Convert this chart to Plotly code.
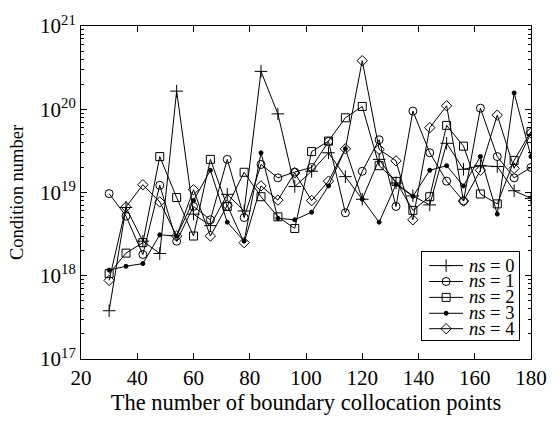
import plotly.graph_objects as go

# Number of boundary collocation points
points = [30, 36, 42, 48, 54, 60, 66, 72, 78, 84, 90, 96, 102, 108, 114, 120,
          126, 132, 138, 144, 150, 156, 162, 168, 174, 180]

# Condition numbers for each ns
cond_ns0 = [3.8e17, 6.6e18, 2.6e18, 1.85e18, 1.65e20, 5.5e18, 4.0e18, 9.5e18, 6.0e18,
            2.85e20, 8.8e19, 1.18e19, 1.8e19, 3.0e19, 1.55e19, 8.3e18, 2.5e19, 1.3e19,
            9.1e18, 7.1e18, 3.9e19, 1.9e19, 2.1e19, 2.05e19, 1.05e19, 8.5e18]
cond_ns1 = [9.7e18, 5.2e18, 1.8e18, 1.22e19, 2.6e18, 6.8e18, 4.7e18, 2.5e19, 5.0e18,
            2.17e19, 1.5e19, 1.76e19, 2.0e19, 4.1e19, 5.7e18, 1.8e19, 4.3e19, 6.8e18,
            9.5e19, 3.0e19, 1.37e19, 7.9e18, 1.03e20, 2.7e19, 1.5e19, 2.0e19]
cond_ns2 = [1.06e18, 1.87e18, 2.5e18, 2.7e19, 8.7e18, 3.0e18, 2.5e19, 6.8e18, 1.75e19,
            8.9e18, 5.1e18, 3.7e18, 3.1e19, 4.15e19, 7.9e19, 1.08e20, 2.1e19, 1.36e19,
            6.1e18, 8.9e18, 6.4e19, 3.6e19, 9.6e18, 7.3e18, 2.43e19, 5.4e19]
cond_ns3 = [1.17e18, 1.3e18, 1.4e18, 3.1e18, 3.0e18, 8.0e18, 1.85e19, 4.4e18, 2.6e18,
            3.0e19, 4.9e18, 4.7e18, 5.8e18, 1.2e19, 3.35e19, 8.3e18, 4.4e18, 1.25e19,
            9.0e18, 1.85e19, 2.1e19, 1.2e19, 2.7e19, 5.5e18, 1.57e20, 2.7e19]
cond_ns4 = [8.8e17, 6.7e18, 1.24e19, 7.7e18, 3.0e18, 1.08e19, 3.0e18, 7.0e18, 2.5e18,
            1.2e19, 8.1e18, 1.72e19, 8.0e18, 1.37e19, 3.35e19, 3.83e20, 3.3e19, 2.4e19,
            4.7e18, 6.0e19, 1.1e20, 7.9e18, 1.85e19, 8.5e19, 1.95e19, 5.2e19]

series_names = ["<i>ns</i> = 0", "<i>ns</i> = 1", "<i>ns</i> = 2",
                "<i>ns</i> = 3", "<i>ns</i> = 4"]

x_tick_vals = [20, 40, 60, 80, 100, 120, 140, 160, 180]
y_tick_vals = [1e17, 1e18, 1e19, 1e20, 1e21]
y_tick_text = ["10<sup>17</sup>", "10<sup>18</sup>", "10<sup>19</sup>",
               "10<sup>20</sup>", "10<sup>21</sup>"]
y_minor_vals = [m * 10.0 ** e for e in range(17, 21) for m in range(2, 10)]

styles = [
    dict(symbol="cross-thin-open", size=9),
    dict(symbol="circle-open", size=8),
    dict(symbol="square-open", size=8),
    dict(symbol="circle", size=4),
    dict(symbol="diamond-open", size=8),
]

font_family = "Liberation Serif, Times New Roman, serif"

fig = go.Figure()
for name, vals, st in zip(series_names,
                          [cond_ns0, cond_ns1, cond_ns2, cond_ns3, cond_ns4],
                          styles):
    fig.add_trace(go.Scatter(
        x=points, y=vals, name=name, mode="lines+markers", showlegend=False,
        line=dict(color="black", width=1),
        marker=dict(symbol=st["symbol"], size=st["size"], color="black",
                    line=dict(color="black", width=1)),
    ))

# Legend box drawn on an inset axis (units: 0-100 across, 0-91 up)
row_y = [77, 60.5, 44, 27.5, 11.5]
for name, st, ry in zip(series_names, styles, row_y):
    fig.add_trace(go.Scatter(
        x=[7, 42], y=[ry, ry], mode="lines", xaxis="x2", yaxis="y2",
        line=dict(color="black", width=1), showlegend=False, hoverinfo="skip",
    ))
    fig.add_trace(go.Scatter(
        x=[24.5], y=[ry], mode="markers", xaxis="x2", yaxis="y2",
        marker=dict(symbol=st["symbol"], size=st["size"], color="black",
                    line=dict(color="black", width=1)),
        showlegend=False, hoverinfo="skip",
    ))
    fig.add_annotation(
        x=46, y=ry, xref="x2", yref="y2", text=name, showarrow=False,
        xanchor="left", yanchor="middle",
        font=dict(family=font_family, size=18.5, color="black"),
    )

fig.update_layout(
    width=559, height=423,
    margin=dict(l=81, r=14, t=16, b=61),
    paper_bgcolor="white", plot_bgcolor="white",
    font=dict(family=font_family, size=21, color="black"),
    showlegend=False,
    xaxis=dict(
        range=[20, 180], tickmode="array", tickvals=x_tick_vals,
        ticks="inside", ticklen=6, tickcolor="black",
        tickfont=dict(size=21, color="black"), ticklabeloverflow="allow",
        showline=True, linecolor="black", linewidth=1, mirror="ticks",
        showgrid=False, zeroline=False,
        title=dict(text="The number of boundary collocation points",
                   font=dict(size=22.5, color="black"), standoff=5),
    ),
    yaxis=dict(
        type="log", range=[17, 21], tickmode="array",
        tickvals=y_tick_vals, ticktext=y_tick_text,
        ticks="inside", ticklen=6, tickcolor="black",
        tickfont=dict(size=21, color="black"), ticklabeloverflow="allow",
        minor=dict(tickmode="array", tickvals=y_minor_vals, ticks="inside",
                   ticklen=3, tickcolor="black", showgrid=False),
        showline=True, linecolor="black", linewidth=1, mirror="ticks",
        showgrid=False, zeroline=False,
        title=dict(text="Condition number",
                   font=dict(size=18.5, color="black"), standoff=11),
    ),
    xaxis2=dict(domain=[0.7586, 0.974], range=[0, 100], anchor="y2",
                showline=True, mirror=True, linecolor="black", linewidth=1,
                showticklabels=False, ticks="", showgrid=False, zeroline=False,
                fixedrange=True),
    yaxis2=dict(domain=[0.0578, 0.321], range=[0, 91], anchor="x2",
                showline=True, mirror=True, linecolor="black", linewidth=1,
                showticklabels=False, ticks="", showgrid=False, zeroline=False,
                fixedrange=True),
)

fig.write_html("out.html")
